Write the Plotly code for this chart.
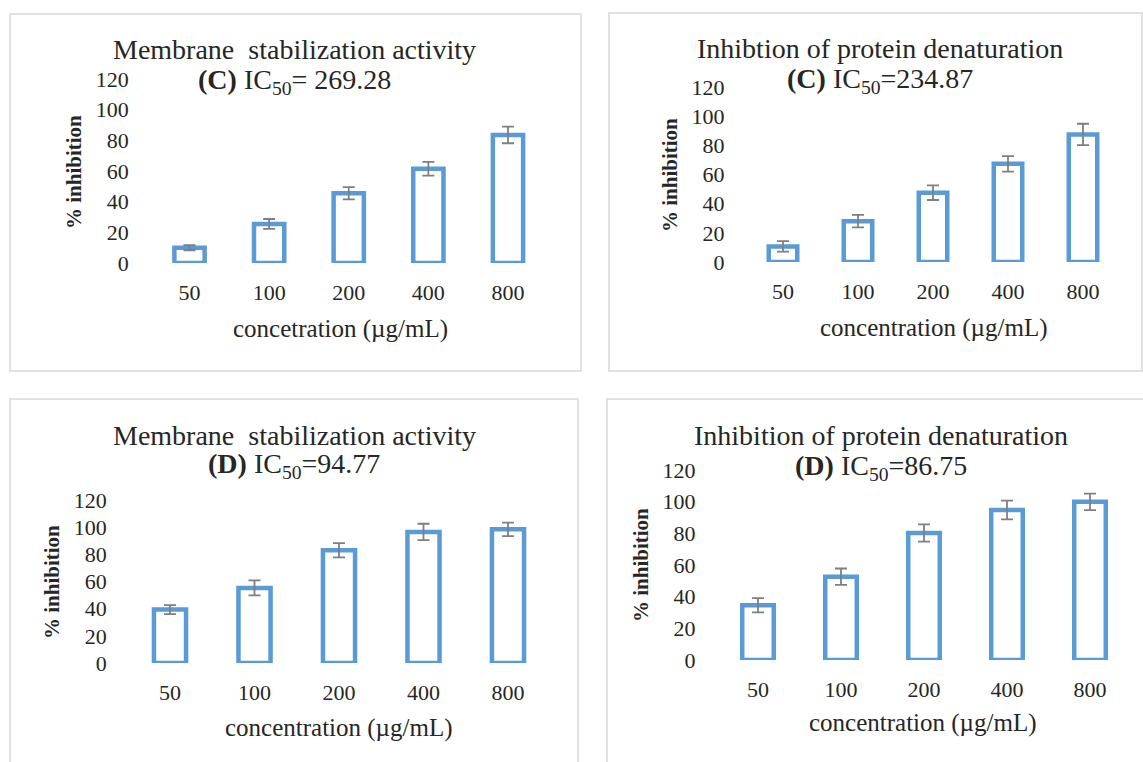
import plotly.graph_objects as go

W, H = 1143, 762

# ---- data ----
concentrations = ["50", "100", "200", "400", "800"]

ms_C_values = [10.0, 25.5, 45.5, 61.5, 83.5]
ms_C_errors = [1.7, 3.2, 4.0, 4.5, 5.4]

pd_C_values = [10.7, 28.0, 47.5, 67.3, 87.5]
pd_C_errors = [3.6, 4.3, 5.0, 5.3, 7.3]

ms_D_values = [39.3, 55.3, 83.0, 96.5, 98.4]
ms_D_errors = [3.3, 5.5, 5.2, 6.0, 5.0]

pd_D_values = [34.6, 52.6, 80.2, 94.7, 99.9]
pd_D_errors = [4.5, 5.2, 5.4, 5.9, 5.2]

y_ticks = [0, 20, 40, 60, 80, 100, 120]

FONT = "Liberation Serif"
TXT = "#262626"
BLUE = "#5B9BD5"
GREY = "#7F7F7F"


def px_x(x):
    return x / W


def px_y(y):
    return 1 - y / H


panels = [
    dict(vals=ms_C_values, errs=ms_C_errors, xd=(149.7, 547.8), yd=(79, 263),
         t1="Membrane&nbsp; stabilization activity", t2="<b>(C)</b> IC<sub>50</sub>= 269.28",
         tx=294, t1y=50, t2y=81, xt="concetration (µg/mL)", xtx=340, xty=329,
         ytx=74, yty=172, frame=(10, 14, 581, 371)),
    dict(vals=pd_C_values, errs=pd_C_errors, xd=(745.5, 1120.5), yd=(87, 262),
         t1="Inhibtion of protein denaturation", t2="<b>(C)</b> IC<sub>50</sub>=234.87",
         tx=880, t1y=48, t2y=80, xt="concentration (µg/mL)", xtx=934, xty=328,
         ytx=670, yty=175, frame=(609, 13, 1142, 371)),
    dict(vals=ms_D_values, errs=ms_D_errors, xd=(127.75, 550.25), yd=(500, 663),
         t1="Membrane&nbsp; stabilization activity", t2="<b>(D)</b> IC<sub>50</sub>=94.77",
         tx=294, t1y=435, t2y=466, xt="concentration (µg/mL)", xtx=339, xty=728,
         ytx=52, yty=582, frame=(10, 399, 578, 766)),
    dict(vals=pd_D_values, errs=pd_D_errors, xd=(716.5, 1131.5), yd=(470, 660),
         t1="Inhibition of protein denaturation", t2="<b>(D)</b> IC<sub>50</sub>=86.75",
         tx=881, t1y=435, t2y=467, xt="concentration (µg/mL)", xtx=923, xty=723,
         ytx=641, yty=565, frame=(607, 399, 1146, 766)),
]

fig = go.Figure()
annotations = []
shapes = []

for i, p in enumerate(panels, start=1):
    xa = "x" if i == 1 else f"x{i}"
    ya = "y" if i == 1 else f"y{i}"
    fig.add_trace(go.Bar(
        x=concentrations, y=p["vals"], xaxis=xa, yaxis=ya,
        width=0.38,
        marker=dict(color="white", line=dict(color=BLUE, width=4.5)),
        error_y=dict(type="data", array=p["errs"], visible=True,
                     color=GREY, thickness=1.8, width=6),
        showlegend=False, hoverinfo="x+y",
    ))
    xkey = "xaxis" if i == 1 else f"xaxis{i}"
    ykey = "yaxis" if i == 1 else f"yaxis{i}"
    fig.update_layout(**{
        xkey: dict(domain=[px_x(p["xd"][0]), px_x(p["xd"][1])], anchor=ya,
                   type="category", showline=False, showgrid=False, zeroline=False,
                   ticks="", ticklabelstandoff=14, automargin=False,
                   tickfont=dict(family=FONT, size=22, color=TXT), fixedrange=True),
        ykey: dict(domain=[px_y(p["yd"][1]), px_y(p["yd"][0])], anchor=xa,
                   range=[0, 120], tickvals=y_ticks, showline=False, showgrid=False,
                   zeroline=False, ticks="", ticklabelstandoff=20, automargin=False,
                   tickfont=dict(family=FONT, size=22, color=TXT), fixedrange=True),
    })
    annotations += [
        dict(text=p["t1"], x=px_x(p["tx"]), y=px_y(p["t1y"]), xref="paper", yref="paper",
             xanchor="center", yanchor="middle", showarrow=False,
             font=dict(family=FONT, size=28, color=TXT)),
        dict(text=p["t2"], x=px_x(p["tx"]), y=px_y(p["t2y"]), xref="paper", yref="paper",
             xanchor="center", yanchor="middle", showarrow=False,
             font=dict(family=FONT, size=28, color=TXT)),
        dict(text=p["xt"], x=px_x(p["xtx"]), y=px_y(p["xty"]), xref="paper", yref="paper",
             xanchor="center", yanchor="middle", showarrow=False,
             font=dict(family=FONT, size=25, color=TXT)),
        dict(text="<b>% inhibition</b>", x=px_x(p["ytx"]), y=px_y(p["yty"]), xref="paper",
             yref="paper", xanchor="center", yanchor="middle", showarrow=False, textangle=-90,
             font=dict(family=FONT, size=21, color=TXT)),
    ]
    f = p["frame"]
    shapes.append(dict(type="rect", xref="paper", yref="paper",
                       x0=px_x(f[0]), x1=px_x(f[2]), y0=px_y(f[3]), y1=px_y(f[1]),
                       line=dict(color="#D9D9D9", width=1.5), fillcolor="rgba(0,0,0,0)",
                       layer="below"))

fig.update_layout(
    width=W, height=H, margin=dict(l=0, r=0, t=0, b=0, autoexpand=False),
    paper_bgcolor="white", plot_bgcolor="white",
    annotations=annotations, shapes=shapes, bargap=0.62,
)

fig.write_html("out.html", include_plotlyjs=True, config={"displayModeBar": False},
               post_script="document.body.style.margin='0';document.body.style.overflow='hidden';")
